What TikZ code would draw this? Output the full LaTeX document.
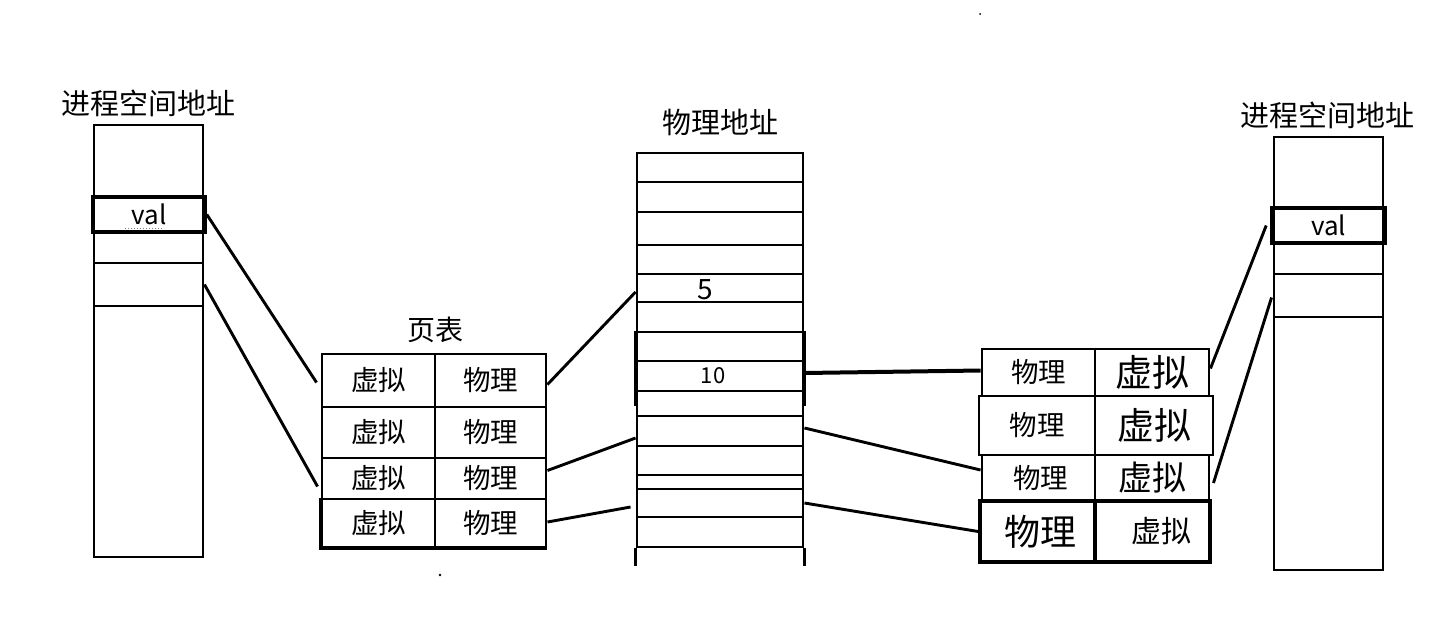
\documentclass[tikz,border=0pt]{standalone}
\usepackage{fontspec}
\setmainfont{Noto Sans CJK SC}
\usetikzlibrary{calc}
\begin{document}
\begin{tikzpicture}[x=1pt,y=-1pt,
  cell/.style={draw, line width=2.9pt, inner sep=0pt, font=\fontsize{27.5}{27.5}\selectfont},
  thickcell/.style={cell, line width=3.6pt},
  big/.style={font=\fontsize{37}{37}\selectfont},
  title/.style={inner sep=0pt, font=\fontsize{29}{29}\selectfont},
  link/.style={line width=2.9pt},
  heavylink/.style={line width=4pt}]
\useasboundingbox (0,0) rectangle (1447,640);

% ---- left process address space ----
\node[title] (ltitle) at (148,103) {进程空间地址};
\node[cell, minimum width=109pt, minimum height=432pt] (lcol) at (148.5,341) {};
\node[cell, minimum width=109pt, minimum height=43pt] (lc3) at (148.5,284.5) {};
\node[thickcell, minimum width=112pt, minimum height=35pt, font=\fontsize{26}{26}\selectfont] (lval) at (149,214.5) {val};
\draw[gray, line width=1pt, dotted] (125,228) -- (163,228);

% ---- page table ----
\node[title, font=\fontsize{28}{28}\selectfont] (pttitle) at (435,330) {页表};
\node[cell, minimum width=113pt, minimum height=53pt] (pt1v) at (378.5,380.5) {虚拟};
\node[cell, minimum width=111pt, minimum height=53pt] (pt1p) at (490.5,380.5) {物理};
\node[cell, minimum width=113pt, minimum height=51pt] (pt2v) at (378.5,432.5) {虚拟};
\node[cell, minimum width=111pt, minimum height=51pt] (pt2p) at (490.5,432.5) {物理};
\node[cell, minimum width=113pt, minimum height=41pt] (pt3v) at (378.5,478.5) {虚拟};
\node[cell, minimum width=111pt, minimum height=41pt] (pt3p) at (490.5,478.5) {物理};
\node[cell, minimum width=113pt, minimum height=48pt] (pt4v) at (378.5,523) {虚拟};
\node[cell, minimum width=111pt, minimum height=48pt] (pt4p) at (490.5,523) {物理};
\draw[line width=3.8pt] (pt4v.north west) -- (pt4v.south west) -- (pt4p.south east);

% ---- physical memory ----
\node[title] (mtitle) at (720,122) {物理地址};
\foreach \t/\b [count=\i] in {153/182,182/212,212/245,245/274,274/302,302/332,332/361,
    361/391,391/416,416/446,446/475,475/489,489/517,517/547}
  \node[cell, minimum width=166pt, minimum height={(\b-\t)*1pt}] (m\i) at (720,{(\t+\b)/2}) {};
\draw[cell] (m14.south west) -- ++(0,18) (m14.south east) -- ++(0,18);
\draw[line width=3.6pt] (m7.north west) -- ++(0,75) (m7.north east) -- ++(0,75);
\node[inner sep=0pt, font=\fontsize{28}{28}\selectfont] (n5) at (705,290) {5};
\node[inner sep=0pt, font=\fontsize{22}{22}\selectfont] (n10) at (713,376) {10};

% ---- second page table ----
\node[cell, minimum width=113pt, minimum height=47pt] (rt1p) at (1038.5,372.5) {物理};
\node[cell, minimum width=114pt, minimum height=47pt, big] (rt1v) at (1152,372.5) {\raisebox{2pt}{虚拟}\hspace{4pt}};
\node[cell, minimum width=116pt, minimum height=59pt] (rt2p) at (1037,425.5) {物理};
\node[cell, minimum width=118pt, minimum height=59pt, big] (rt2v) at (1154,425.5) {虚拟};
\node[cell, minimum width=113pt, minimum height=46pt] (rt3p) at (1038.5,478) {\hspace{4pt}物理};
\node[cell, minimum width=114pt, minimum height=46pt, font=\fontsize{34}{34}\selectfont] (rt3v) at (1152,478) {\raisebox{2pt}{虚拟}};
\node[thickcell, minimum width=115pt, minimum height=61pt, font=\fontsize{36}{36}\selectfont] (rt4p) at (1037.5,531.5) {\hspace{5pt}物理};
\node[thickcell, minimum width=115pt, minimum height=61pt, font=\fontsize{30}{30}\selectfont] (rt4v) at (1152.5,531.5) {\hspace{18pt}虚拟};

% ---- right process address space ----
\node[title] (rtitle) at (1327,115) {进程空间地址};
\node[cell, minimum width=109pt, minimum height=433pt] (rcol) at (1328.5,353.5) {};
\node[cell, minimum width=109pt, minimum height=43pt] (rc3) at (1328.5,295.5) {};
\node[thickcell, minimum width=113pt, minimum height=35pt, font=\fontsize{26}{26}\selectfont] (rv) at (1328.5,225.5) {val};

% ---- connectors ----
\draw[link] (lval.east) -- ($(pt1v.west)+(-4,2)$);
\draw[link] (lc3.east) -- ($(pt3v.west)+(-3,8)$);
\draw[link] ($(pt1p.east)+(0,4)$) -- ($(m5.west)+(0,4)$);
\draw[link] ($(pt3p.east)+(0,-8)$) -- ($(m10.west)+(0,7)$);
\draw[link] ($(pt4p.east)+(0,-1)$) -- ($(m13.west)+(-5,4)$);
\draw[heavylink] ($(m8.east)+(0,-3)$) -- ($(rt1p.west)+(0,-2)$);
\draw[link] ($(m10.east)+(0,-3)$) -- ($(rt3p.west)+(0,-8)$);
\draw[link] (m13.east) -- (rt4p.west);
\draw[link] ($(rt1v.east)+(0,-4)$) -- ($(rv.west)+(-4,0)$);
\draw[link] ($(rt3v.east)+(3,5)$) -- ($(rc3.west)+(-1,2)$);

% stray pen marks
\fill (980,14) circle (1pt);
\fill (440,575) circle (1.4pt);
\end{tikzpicture}
\end{document}
